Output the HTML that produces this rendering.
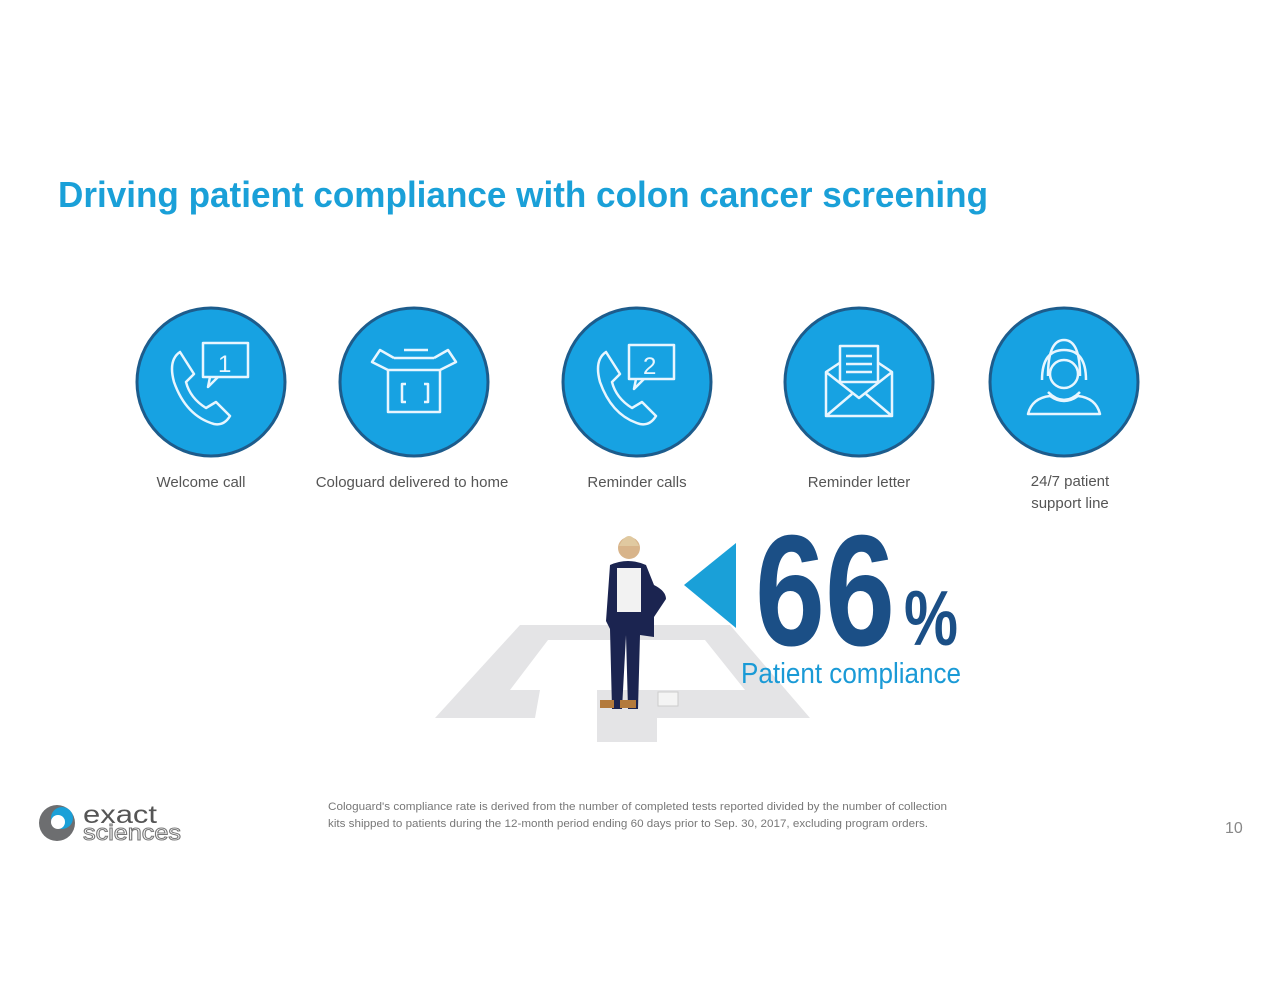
<!DOCTYPE html>
<html><head><meta charset="utf-8"><style>
html,body{margin:0;padding:0;background:#fff;}
svg{display:block;}
text{font-family:"Liberation Sans",Arial,sans-serif;}
</style></head><body>
<svg width="1280" height="989" viewBox="0 0 1280 989" xmlns="http://www.w3.org/2000/svg">
<rect width="1280" height="989" fill="#fff"/>
<text x="58" y="207" font-size="36" font-weight="bold" fill="#1aa0d8" textLength="930" lengthAdjust="spacingAndGlyphs">Driving patient compliance with colon cancer screening</text>

<g stroke="#1d5c8c" stroke-width="3" fill="#17a2e2">
<circle cx="211" cy="382" r="74"/>
<circle cx="414" cy="382" r="74"/>
<circle cx="637" cy="382" r="74"/>
<circle cx="859" cy="382" r="74"/>
<circle cx="1064" cy="382" r="74"/>
</g>
<g stroke="#e8f6ff" stroke-width="2.5" fill="none" stroke-linejoin="round">
<path d="M180 352 q-12 8 -6 30 q12 34 40 42 q10 2 16 -8 l-14 -14 l-10 6 q-16 -10 -20 -26 l8 -8 z"/>
<rect x="203" y="343" width="45" height="34"/>
<path d="M210 377 l-2 10 l10 -10"/>
<text x="218" y="372" font-size="24" fill="#e8f6ff" stroke="none">1</text>
<path d="M388 370 h52 v42 h-52 z M388 370 l-16 -8 l8 -12 l14 8 M440 370 l16 -8 l-8 -12 l-14 8 M394 358 h40 M404 350 h24"/>
<path d="M406 384 h-4 v18 h4 M424 384 h4 v18 h-4"/>
<path d="M606 352 q-12 8 -6 30 q12 34 40 42 q10 2 16 -8 l-14 -14 l-10 6 q-16 -10 -20 -26 l8 -8 z"/>
<rect x="629" y="345" width="45" height="34"/>
<path d="M636 379 l-2 10 l10 -10"/>
<text x="643" y="374" font-size="24" fill="#e8f6ff" stroke="none">2</text>
<path d="M826 372 l33 -22 l33 22 v44 h-66 z M826 372 l33 26 l33 -26 M826 416 l26 -22 M892 416 l-26 -22"/>
<rect x="840" y="346" width="38" height="36" fill="#17a2e2"/>
<path d="M846 356 h26 M846 364 h26 M846 372 h26"/>
<path d="M1048 376 q0 -36 16 -36 q16 0 16 36 M1042 380 q0 -30 22 -30 q22 0 22 30 M1048 392 q16 16 32 0 M1028 414 q4 -16 22 -18 q14 10 28 0 q18 2 22 18 z"/>
<circle cx="1064" cy="374" r="14"/>
</g>

<g font-size="15" fill="#555">
<text x="201" y="487" text-anchor="middle">Welcome call</text>
<text x="412" y="487" text-anchor="middle">Cologuard delivered to home</text>
<text x="637" y="487" text-anchor="middle">Reminder calls</text>
<text x="859" y="487" text-anchor="middle">Reminder letter</text>
<text x="1070" y="486" text-anchor="middle">24/7 patient</text>
<text x="1070" y="508" text-anchor="middle">support line</text>
</g>

<!-- floor -->
<path fill="#e4e4e6" fill-rule="evenodd" d="M520 625 L730 625 L810 718 L657 718 L657 742 L597 742 L597 718 L435 718 Z M548 640 L705 640 L745 690 L597 690 L597 718 L535 718 L540 690 L510 690 Z"/>
<!-- woman -->
<g>
<circle cx="629" cy="548" r="11" fill="#d8b48a"/>
<path d="M619 546 q10 -20 20 0" fill="#e0c9a0"/>
<path d="M610 565 q18 -8 36 0 l8 20 q12 6 12 14 l-12 18 v20 l-14 -2 l-2 74 h-10 l-2 -74 l-4 74 h-10 l-2 -80 l-4 -8 z" fill="#1b2450"/>
<rect x="617" y="568" width="24" height="44" fill="#f2f2f2"/>
<rect x="600" y="700" width="14" height="8" fill="#b37a3c"/>
<rect x="620" y="700" width="16" height="8" fill="#b37a3c"/>
<rect x="658" y="692" width="20" height="14" fill="#f4f4f4" stroke="#ccc"/>
</g>
<polygon points="684,585 736,543 736,628" fill="#1aa0d8"/>
<text x="755" y="645" font-size="158" font-weight="bold" fill="#1b4f86" textLength="140" lengthAdjust="spacingAndGlyphs">66</text>
<text x="904" y="645" font-size="78" font-weight="bold" fill="#1b4f86" textLength="54" lengthAdjust="spacingAndGlyphs">%</text>
<text x="741" y="683" font-size="29" fill="#1a9ad6" textLength="220" lengthAdjust="spacingAndGlyphs">Patient compliance</text>

<circle cx="57" cy="823" r="18" fill="#6d6e70"/>
<circle cx="62" cy="818" r="11" fill="#1aa0d8"/>
<circle cx="58" cy="822" r="7" fill="#fff"/>
<text x="83" y="823" font-size="25" fill="#555" textLength="74" lengthAdjust="spacingAndGlyphs">exact</text>
<text x="83" y="840" font-size="22" fill="#fff" stroke="#777" stroke-width="1" textLength="98" lengthAdjust="spacingAndGlyphs">sciences</text>

<g font-size="11" fill="#777">
<text x="328" y="810" textLength="619" lengthAdjust="spacingAndGlyphs">Cologuard's compliance rate is derived from the number of completed tests reported divided by the number of collection</text>
<text x="328" y="827" textLength="600" lengthAdjust="spacingAndGlyphs">kits shipped to patients during the 12-month period ending 60 days prior to Sep. 30, 2017, excluding program orders.</text>
</g>
<text x="1225" y="833" font-size="16" fill="#888">10</text>
</svg>
</body></html>
